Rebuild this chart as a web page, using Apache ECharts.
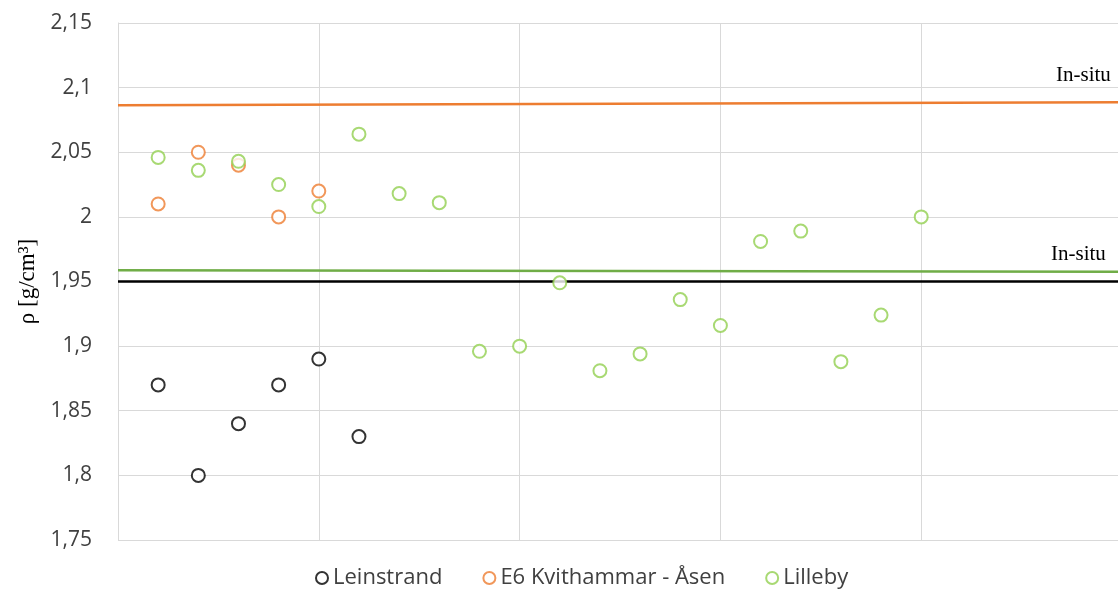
<!DOCTYPE html>
<html>
<head>
<meta charset="utf-8">
<script src="https://cdn.jsdelivr.net/npm/echarts@6/dist/echarts.min.js"></script>
<style>
  html, body { margin: 0; padding: 0; background: #fff; }
  #chart { width: 1118px; height: 590px; }
</style>
</head>
<body>
<div id="chart"></div>
<script>
// Måledata (x = prøvenummer)
const leinstrandX = [1, 2, 3, 4, 5, 6]
const leinstrand = [1.87, 1.80, 1.84, 1.87, 1.89, 1.83]

const kvithammarX = [1, 2, 3, 4, 5]
const kvithammar = [2.01, 2.05, 2.04, 2.00, 2.02]

const lillebyX = [1, 2, 3, 4, 5, 6, 7, 8, 9, 10, 11, 12, 13, 14, 15, 16, 17, 18, 19, 20]
const lilleby = [2.046, 2.036, 2.043, 2.025, 2.008, 2.064, 2.018, 2.011, 1.896, 1.900,
  1.949, 1.881, 1.894, 1.936, 1.916, 1.981, 1.989, 1.888, 1.924, 2.000]

// In-situ linjer: [start, slutt]
const lineX = [0, 24.9]
const insituKvithammar = [2.0863, 2.0886]
const insituLilleby = [1.9587, 1.9576]
const insituLeinstrand = [1.95, 1.95]

const yTicks = [1.75, 1.8, 1.85, 1.9, 1.95, 2, 2.05, 2.1, 2.15]

const pairs = (xs, ys) => xs.map((x, i) => [x, ys[i]])

function lineData(ys, label) {
  return ys.map((y, i) => {
    const item = { value: [lineX[i], y] }
    if (label && i === ys.length - 1) {
      item.label = {
        show: true,
        formatter: 'In-situ',
        fontFamily: 'Liberation Serif',
        fontSize: 21,
        color: '#000',
        position: label
      }
    }
    return item
  })
}

function insituLine(name, ys, color, label) {
  return {
    name: name,
    type: 'line',
    data: lineData(ys, label),
    symbol: 'circle',
    symbolSize: 0,
    showSymbol: true,
    lineStyle: { color: color, width: 2.5 },
    itemStyle: { color: color },
    z: 1
  }
}

const chart = echarts.init(document.getElementById('chart'))
chart.setOption({
  animation: false,
  grid: { left: 118, right: 0, top: 23, bottom: 50 },
  xAxis: {
    type: 'value',
    min: 0,
    max: 24.9,
    interval: 5,
    axisLabel: { show: false },
    axisTick: { show: false },
    axisLine: { show: false },
    splitLine: { lineStyle: { color: '#d9d9d9', width: 1 } }
  },
  yAxis: {
    type: 'value',
    min: 1.75,
    max: 2.15,
    interval: 0.05,
    name: 'ρ [g/cm³]',
    nameLocation: 'middle',
    nameGap: 76,
    nameTextStyle: { fontFamily: 'Liberation Serif', fontSize: 23, color: '#000' },
    axisLine: { show: true, lineStyle: { color: '#d9d9d9' } },
    axisTick: { show: false },
    axisLabel: {
      fontFamily: 'Open Sans',
      fontSize: 21,
      color: '#404040',
      margin: 26,
      formatter: v => {
        const t = yTicks.find(t => Math.abs(t - v) < 1e-6)
        return t === undefined ? '' : String(t).replace('.', ',')
      }
    },
    splitLine: { lineStyle: { color: '#d9d9d9', width: 1 } }
  },
  legend: {
    bottom: -4,
    left: 310,
    itemGap: 40,
    itemWidth: 12,
    itemHeight: 12,
    icon: 'emptyCircle',
    data: ['Leinstrand', 'E6 Kvithammar - Åsen', 'Lilleby'],
    textStyle: { fontFamily: 'Open Sans', fontSize: 22, color: '#404040' }
  },
  series: [
    insituLine('In-situ E6', insituKvithammar, '#ED7D31', [-62, -37]),
    insituLine('In-situ Lilleby', insituLilleby, '#70AD47', [-67, -28]),
    insituLine('In-situ Leinstrand', insituLeinstrand, '#000', null),
    {
      name: 'Leinstrand',
      type: 'scatter',
      data: pairs(leinstrandX, leinstrand),
      symbol: 'emptyCircle',
      symbolSize: 13,
      itemStyle: { color: '#000', borderWidth: 2.4 },
      z: 3
    },
    {
      name: 'E6 Kvithammar - Åsen',
      type: 'scatter',
      data: pairs(kvithammarX, kvithammar),
      symbol: 'emptyCircle',
      symbolSize: 13,
      itemStyle: { color: '#ED7D31', borderWidth: 2.2 },
      z: 3
    },
    {
      name: 'Lilleby',
      type: 'scatter',
      data: pairs(lillebyX, lilleby),
      symbol: 'emptyCircle',
      symbolSize: 13,
      itemStyle: { color: '#92D050', borderWidth: 2.2 },
      z: 3
    }
  ]
})
</script>
</body>
</html>
